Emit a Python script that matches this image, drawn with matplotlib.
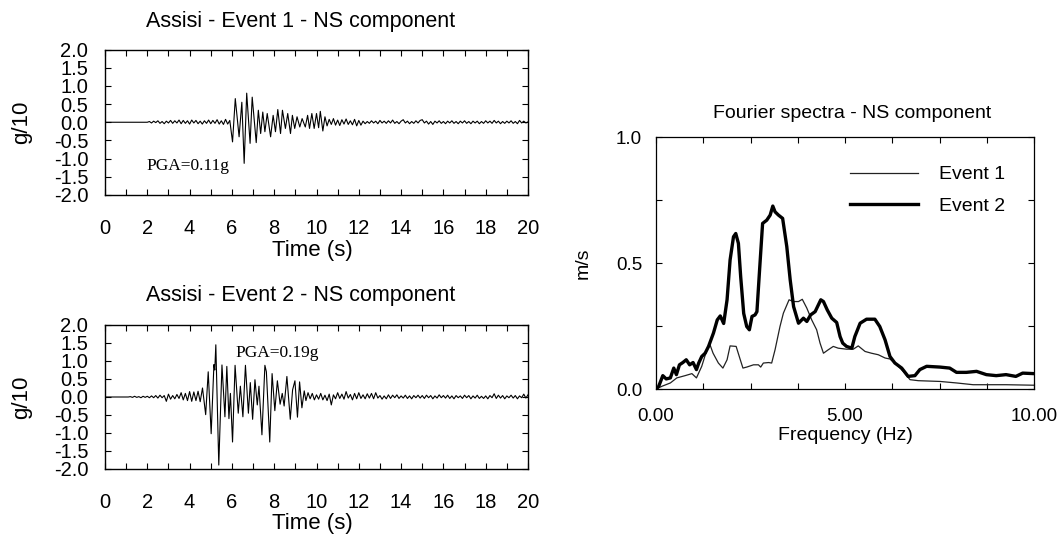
import numpy as np
import matplotlib
matplotlib.use("Agg")
import matplotlib.pyplot as plt
from matplotlib.ticker import MultipleLocator, FuncFormatter

plt.rcParams['font.family'] = ['Liberation Sans', 'DejaVu Sans']
plt.rcParams['axes.unicode_minus'] = False

# ---- Event 1 accelerogram (g/10) ----
e1_pre_start = 2.0
e1_pre = [0, 0.02, -0.02, 0.03, -0.01, 0.04, -0.03, 0.02, -0.04, 0.03,
          -0.02, 0.05, -0.03, 0.04, -0.02, 0.06, -0.04, 0.05, -0.03, 0.04,
          -0.05, 0.06, -0.02, 0.05, -0.04, 0.03, -0.05, 0.04, -0.03, 0.06,
          -0.04, 0.05, -0.03, 0.07, -0.05, 0.04, -0.06, 0.08, -0.05, 0.05]
e1_strong_t = [6.03, 6.16, 6.34, 6.47, 6.58, 6.70, 6.86, 6.96, 7.15, 7.25,
               7.36, 7.46, 7.56, 7.67, 7.83, 7.95, 8.06, 8.17, 8.30, 8.39,
               8.53, 8.64, 8.77, 8.86, 8.97, 9.08, 9.21, 9.32, 9.47, 9.58,
               9.67, 9.78, 9.89, 10.0, 10.1, 10.18, 10.3, 10.4]
e1_strong_a = [-0.54, 0.65, -0.40, 0.55, -1.13, 0.80, -0.58, 0.69, -0.56, 0.33,
               -0.31, 0.28, -0.26, 0.24, -0.40, 0.19, -0.26, 0.35, -0.31, 0.33,
               -0.17, 0.24, -0.31, 0.19, -0.17, 0.15, -0.13, 0.10, -0.13, 0.19,
               -0.17, 0.24, -0.17, 0.24, -0.15, 0.30, -0.24, 0.15]
e1_coda_start = 10.5
e1_coda = [-0.10, 0.08, -0.06, 0.10, -0.08, 0.06, -0.09, 0.07, -0.05, 0.09,
           -0.06, 0.04, -0.07, 0.08, -0.10, 0.05,
           -0.08, 0.03, -0.04, 0.02, -0.03, 0.04, -0.02, 0.03, -0.04, 0.05,
           -0.02, 0.03, -0.03, 0.04, -0.02, 0.06, -0.03, 0.02, -0.04, 0.03,
           0.07, -0.02, 0.03, -0.04, 0.02, -0.03, 0.04, -0.02, 0.05, 0.07,
           -0.02, 0.03, -0.05, 0.02, -0.06, 0.03, -0.02, 0.04, -0.03, 0.02,
           -0.04, 0.03, -0.02, 0.04, -0.03, 0.02, -0.04, 0.03, -0.02, 0.04,
           -0.03, 0.02, -0.04, 0.03, -0.02, 0.03, -0.04, 0.02, -0.03, 0.04,
           -0.02, 0.03, -0.03, 0.05, -0.02, 0.03, -0.04, 0.02, -0.03, 0.03,
           -0.02, 0.04, -0.03, 0.02, -0.04, 0.05, -0.02, 0.03, -0.02, 0.01]

# ---- Event 2 accelerogram (g/10) ----
e2_pre_start = 1.1
e2_pre = [0, 0.01, -0.01, 0.02, -0.01, 0.01, -0.02, 0.02, -0.01, 0.02,
          -0.02, 0.03, -0.02, 0.04, -0.03, 0.05, -0.02, 0.04, -0.12, 0.08,
          -0.06, 0.04, -0.05, 0.07, -0.04, 0.12, -0.08, 0.10, -0.10, 0.15,
          -0.12, 0.14, -0.10, 0.16, -0.13]
e2_strong_t = [4.61, 4.76, 4.88, 5.02, 5.15, 5.19, 5.24, 5.38, 5.53, 5.67,
               5.76, 5.86, 5.93, 6.03, 6.15, 6.30, 6.40, 6.52, 6.64, 6.78,
               6.87, 6.98, 7.09, 7.20, 7.28, 7.42, 7.56, 7.63, 7.79, 7.90,
               8.03, 8.15, 8.28, 8.38, 8.47, 8.60, 8.76, 8.87, 8.98, 9.10,
               9.20, 9.31, 9.42]
e2_strong_a = [0.25, -0.49, 0.70, -1.02, 0.90, 0.75, 1.45, -1.89, 0.89, -0.55,
               0.85, -0.60, 0.10, -1.25, 0.88, -0.45, 0.30, -0.55, 0.88, -0.45,
               0.40, -0.62, 0.48, -0.22, 0.30, -1.05, 0.88, 0.70, -1.25, 0.65,
               -0.38, 0.45, -0.20, 0.10, -0.25, 0.57, -0.62, 0.20, 0.45, -0.56,
               0.42, -0.30, 0.17]
e2_coda_start = 9.5
e2_coda = [-0.10, 0.12, -0.05, 0.10, -0.08, 0.06,
           -0.06, 0.10, -0.08, 0.05, -0.10, 0.08, -0.22, 0.06, -0.05, 0.12,
           -0.04, 0.08, -0.06, 0.15, -0.03, 0.07, -0.08, 0.10, -0.05, 0.12,
           -0.04, 0.06, -0.05, 0.09, -0.03, 0.10, -0.05, 0.12, -0.03, 0.04,
           -0.06, 0.03, -0.05, 0.06, -0.04, 0.05, -0.02, 0.06, -0.04, 0.03,
           -0.03, 0.05, -0.04, 0.03, -0.05, 0.04, -0.02, 0.05, -0.03, 0.04,
           -0.04, 0.05, -0.02, 0.04, -0.05, 0.03, -0.03, 0.06, -0.02, 0.04,
           -0.03, 0.05, -0.04, 0.03, -0.05, 0.04, -0.02, 0.03, -0.04, 0.05,
           -0.02, 0.04, -0.05, 0.03, -0.03, 0.05, -0.04, 0.02, -0.04, 0.03,
           -0.05, 0.04, -0.02, 0.09, -0.04, 0.05, -0.03, 0.04, -0.05, 0.03,
           -0.02, 0.05, -0.03, 0.04, -0.05, 0.03, -0.02, 0.08, -0.03, 0.06]

# ---- Fourier spectra (m/s) ----
f_ev1 = [0, 0.16, 0.38, 0.55, 0.77, 0.95, 1.07, 1.21, 1.35, 1.42, 1.51, 1.65,
         1.77, 1.88, 1.96, 2.12, 2.23, 2.30, 2.40, 2.58, 2.71, 2.77, 2.84, 2.98,
         3.06, 3.15, 3.28, 3.37, 3.52, 3.64, 3.77, 3.87, 3.99, 4.12, 4.25, 4.34,
         4.43, 4.56, 4.69, 4.82, 5.04, 5.22, 5.35, 5.53, 5.70, 5.88, 6.06, 6.19,
         6.37, 6.54, 6.72, 6.94, 7.51, 7.95, 8.39, 9.26, 10.0]
s_ev1 = [0, 0.011, 0.024, 0.044, 0.053, 0.061, 0.044, 0.09, 0.158, 0.179, 0.142, 0.103,
         0.083, 0.116, 0.171, 0.169, 0.116, 0.083, 0.087, 0.096, 0.096, 0.087, 0.103, 0.105,
         0.103, 0.156, 0.248, 0.301, 0.354, 0.347, 0.347, 0.356, 0.321, 0.274, 0.235, 0.182,
         0.142, 0.156, 0.169, 0.162, 0.158, 0.158, 0.171, 0.149, 0.142, 0.136, 0.123, 0.119,
         0.096, 0.070, 0.037, 0.033, 0.030, 0.024, 0.017, 0.017, 0.015]
f_ev2 = [0, 0.07, 0.18, 0.27, 0.38, 0.47, 0.54, 0.62, 0.71, 0.80, 0.89, 0.98,
         1.07, 1.13, 1.21, 1.30, 1.39, 1.52, 1.62, 1.70, 1.79, 1.88, 1.96, 2.05,
         2.11, 2.18, 2.24, 2.32, 2.40, 2.47, 2.54, 2.62, 2.67, 2.74, 2.82, 2.93,
         3.02, 3.09, 3.15, 3.24, 3.35, 3.46, 3.55, 3.64, 3.77, 3.90, 3.99, 4.09,
         4.21, 4.36, 4.43, 4.53, 4.65, 4.78, 4.87, 4.94, 5.04, 5.18, 5.26, 5.40,
         5.57, 5.79, 5.92, 6.06, 6.19, 6.32, 6.50, 6.67, 6.85, 6.98, 7.16, 7.51,
         7.77, 7.95, 8.21, 8.48, 8.74, 9.00, 9.26, 9.52, 9.70, 10.0]
s_ev2 = [0, 0.010, 0.053, 0.040, 0.044, 0.083, 0.057, 0.096, 0.105, 0.116, 0.096, 0.105,
         0.077, 0.103, 0.129, 0.142, 0.169, 0.222, 0.274, 0.290, 0.260, 0.354, 0.512, 0.604,
         0.617, 0.578, 0.446, 0.300, 0.248, 0.235, 0.288, 0.294, 0.307, 0.472, 0.657, 0.670,
         0.690, 0.726, 0.703, 0.690, 0.677, 0.565, 0.433, 0.327, 0.261, 0.281, 0.268, 0.294,
         0.307, 0.354, 0.347, 0.314, 0.281, 0.264, 0.208, 0.182, 0.169, 0.162, 0.208, 0.261,
         0.277, 0.277, 0.248, 0.195, 0.129, 0.103, 0.083, 0.050, 0.053, 0.077, 0.090, 0.087,
         0.083, 0.066, 0.066, 0.070, 0.057, 0.053, 0.057, 0.050, 0.063, 0.061]

W, H = 1060, 536


def box(l, t, r, b):
    return [l / W, 1 - b / H, (r - l) / W, (b - t) / H]


def build_trace(pre_start, pre, strong_t, strong_a, coda_start, coda):
    t_pre = np.round(pre_start + 0.1 * np.arange(len(pre)), 2)
    t_coda = np.round(coda_start + 0.1 * np.arange(len(coda)), 2)
    t = np.concatenate([[0.0], t_pre, strong_t, t_coda])
    a = np.concatenate([[0.0], pre, strong_a, coda])
    return t, a


def style_time_axis(ax):
    ax.set_xlim(0, 20)
    ax.set_ylim(-2, 2)
    ax.xaxis.set_major_locator(MultipleLocator(1))
    ax.xaxis.set_major_formatter(FuncFormatter(lambda v, p: '%d' % v if int(round(v)) % 2 == 0 else ''))
    ax.yaxis.set_major_locator(MultipleLocator(0.5))
    ax.yaxis.set_major_formatter(FuncFormatter(lambda v, p: '%.1f' % v))
    ax.tick_params(direction='in', top=True, right=True, length=4, width=0.8, labelsize=14.5)
    ax.tick_params(axis='x', pad=17)
    ax.tick_params(axis='y', pad=12)
    for s in ax.spines.values():
        s.set_linewidth(1.0)


fig = plt.figure(figsize=(W / 100, H / 100), dpi=100)

ax1 = fig.add_axes(box(105, 49.5, 528, 195))
t1, a1 = build_trace(e1_pre_start, e1_pre, e1_strong_t, e1_strong_a, e1_coda_start, e1_coda)
ax1.plot(t1, a1, color='black', lw=0.8)
style_time_axis(ax1)
ax1.text(1.95, -1.2, 'PGA=0.11g', family='Liberation Serif', fontsize=12.5, va='center', ha='left')

ax2 = fig.add_axes(box(105, 325, 528, 469))
t2, a2 = build_trace(e2_pre_start, e2_pre, e2_strong_t, e2_strong_a, e2_coda_start, e2_coda)
ax2.plot(t2, a2, color='black', lw=0.8)
style_time_axis(ax2)
ax2.text(6.15, 1.23, 'PGA=0.19g', family='Liberation Serif', fontsize=12.5, va='center', ha='left')

fig.text(301 / W, 1 - 21 / H, 'Assisi - Event 1 - NS component', fontsize=15.5, ha='center', va='center')
fig.text(301 / W, 1 - 295 / H, 'Assisi - Event 2 - NS component', fontsize=15.5, ha='center', va='center')
fig.text(312 / W, 1 - 250 / H, 'Time (s)', fontsize=16, ha='center', va='center')
fig.text(312 / W, 1 - 524 / H, 'Time (s)', fontsize=16, ha='center', va='center')
fig.text(22 / W, 1 - 122 / H, 'g/10', fontsize=16, ha='center', va='center', rotation=90)
fig.text(22 / W, 1 - 397 / H, 'g/10', fontsize=16, ha='center', va='center', rotation=90)

ax3 = fig.add_axes(box(656, 137, 1034, 389))
ax3.plot(f_ev1, s_ev1, color='#222222', lw=0.9, label='Event 1')
ax3.plot(f_ev2, s_ev2, color='black', lw=2.4, label='Event 2')
ax3.set_xlim(0, 10)
ax3.set_ylim(0, 1)
ax3.xaxis.set_major_locator(MultipleLocator(1.25))
ax3.xaxis.set_major_formatter(FuncFormatter(lambda v, p: '%.2f' % v if abs(v % 5) < 1e-6 else ''))
ax3.yaxis.set_major_locator(MultipleLocator(0.25))
ax3.yaxis.set_major_formatter(FuncFormatter(lambda v, p: '%.1f' % v if abs(v % 0.5) < 1e-6 else ''))
ax3.tick_params(direction='in', top=True, right=True, length=4, width=0.8, labelsize=13.5)
ax3.tick_params(axis='x', pad=14)
ax3.tick_params(axis='y', pad=10)
for s in ax3.spines.values():
    s.set_linewidth(0.9)
ax3.legend(loc='upper left', bbox_to_anchor=(0.513, 0.886), frameon=False, fontsize=14,
           borderpad=0, borderaxespad=0, handlelength=3.5, handletextpad=1.1, labelspacing=0.7)

fig.text(852 / W, 1 - 113 / H, 'Fourier spectra - NS component', fontsize=14, ha='center', va='center')
fig.text(583 / W, 1 - 263 / H, 'm/s', fontsize=14, ha='center', va='center', rotation=90)
fig.text(845 / W, 1 - 436 / H, 'Frequency (Hz)', fontsize=14, ha='center', va='center')

fig.savefig('out.png', dpi=100)
